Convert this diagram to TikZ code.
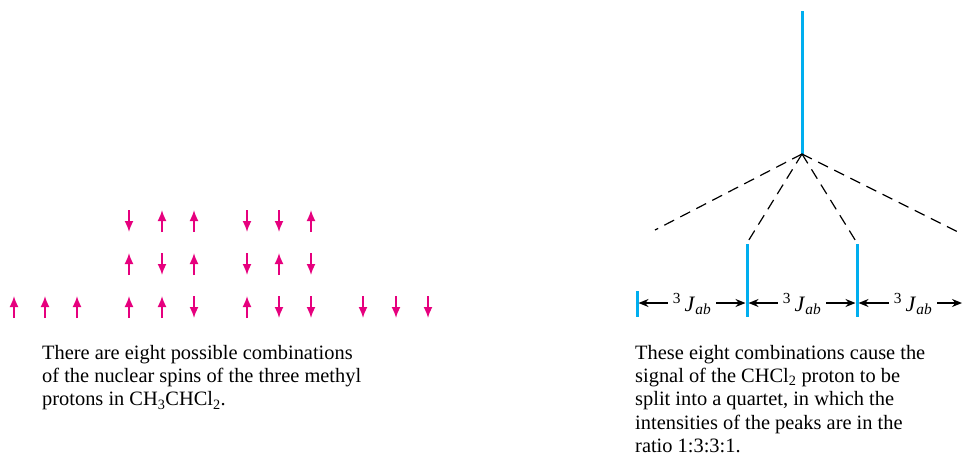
\documentclass[tikz,border=0pt]{standalone}
\usepackage{fontspec}
\setmainfont{Liberation Serif}
\usetikzlibrary{arrows.meta}
\definecolor{spinpink}{HTML}{E6007E}
\definecolor{peakblue}{HTML}{00AEEF}

\begin{document}
\begin{tikzpicture}[x=1pt, y=-1pt,
  every node/.style={font=\fontsize{20.4}{23.3}\selectfont},
  spin/.style={spinpink, line width=1.7pt, -{Latex[length=11pt, width=9pt]}},
  peak/.style={peakblue, line width=3pt},
  split/.style={black, line width=1.2pt, dash pattern=on 11pt off 7pt},
  coupling/.style={black, line width=1.3pt, -{Stealth[length=10pt, width=8pt]}, shorten >=1.5pt},
  jlabel/.style={font=\fontsize{22}{26}\selectfont, inner sep=5pt},
  caption/.style={anchor=north west, align=left, inner sep=0pt}]

  \useasboundingbox (0,0) rectangle (963,458);

  % Spin states of the three methyl protons (up = alpha, down = beta)
  % All up
  \draw[spin] (14,318) -- (14,296);
  \draw[spin] (45,318) -- (45,296);
  \draw[spin] (77,318) -- (77,296);

  % Two up, one down
  \draw[spin] (129,210) -- (129,232);
  \draw[spin] (162,232) -- (162,210);
  \draw[spin] (194,232) -- (194,210);
  \draw[spin] (129,275) -- (129,253);
  \draw[spin] (162,253) -- (162,275);
  \draw[spin] (194,275) -- (194,253);
  \draw[spin] (129,318) -- (129,296);
  \draw[spin] (162,318) -- (162,296);
  \draw[spin] (194,296) -- (194,318);

  % One up, two down
  \draw[spin] (247,210) -- (247,232);
  \draw[spin] (279,210) -- (279,232);
  \draw[spin] (311,232) -- (311,210);
  \draw[spin] (247,253) -- (247,275);
  \draw[spin] (279,275) -- (279,253);
  \draw[spin] (311,253) -- (311,275);
  \draw[spin] (247,318) -- (247,296);
  \draw[spin] (279,296) -- (279,318);
  \draw[spin] (311,296) -- (311,318);

  % All down
  \draw[spin] (363,296) -- (363,318);
  \draw[spin] (396,296) -- (396,318);
  \draw[spin] (428,296) -- (428,318);

  % Unsplit signal and its splitting into the quartet
  \coordinate (top) at (802,11);
  \coordinate (apex) at (802,154);
  \draw[peak] (top) -- (apex);

  \coordinate (outerL) at (655,230);
  \coordinate (innerL) at (747,243);
  \coordinate (innerR) at (857,243);
  \coordinate (outerR) at (958,232);
  \draw[split] (apex) -- (outerL);
  \draw[split] (apex) -- (innerL);
  \draw[split] (apex) -- (innerR);
  \draw[split] (apex) -- (outerR);

  % Quartet lines
  \draw[peak] (637,291) -- (637,317);
  \draw[peak] (747,244) -- (747,317);
  \draw[peak] (857,244) -- (857,317);

  % Coupling constants between the lines
  \coordinate (p1) at (637,303);
  \coordinate (p2) at (747,303);
  \coordinate (p3) at (857,303);
  \coordinate (p4) at (962,303);
  \node[jlabel] (j1) at (692,304) {\textsuperscript{3}\,\textit{J}\textsubscript{\textit{ab}}};
  \node[jlabel] (j2) at (802,304) {\textsuperscript{3}\,\textit{J}\textsubscript{\textit{ab}}};
  \node[jlabel] (j3) at (913,304) {\textsuperscript{3}\,\textit{J}\textsubscript{\textit{ab}}};
  \draw[coupling] (j1.west |- p1) -- (p1);
  \draw[coupling] (j1.east |- p2) -- (p2);
  \draw[coupling] (j2.west |- p2) -- (p2);
  \draw[coupling] (j2.east |- p3) -- (p3);
  \draw[coupling] (j3.west |- p3) -- (p3);
  \draw[coupling, shorten >=0pt] (j3.east |- p4) -- (p4);

  % Captions
  \node[caption] (capL) at (42,345) {There are eight possible combinations\\
    of the nuclear spins of the three methyl\\
    protons in CH\textsubscript{3}CHCl\textsubscript{2}.};
  \node[caption] (capR) at (635,345) {These eight combinations cause the\\
    signal of the CHCl\textsubscript{2} proton to be\\
    split into a quartet, in which the\\
    intensities of the peaks are in the\\
    ratio 1:3:3:1.};

\end{tikzpicture}
\end{document}
